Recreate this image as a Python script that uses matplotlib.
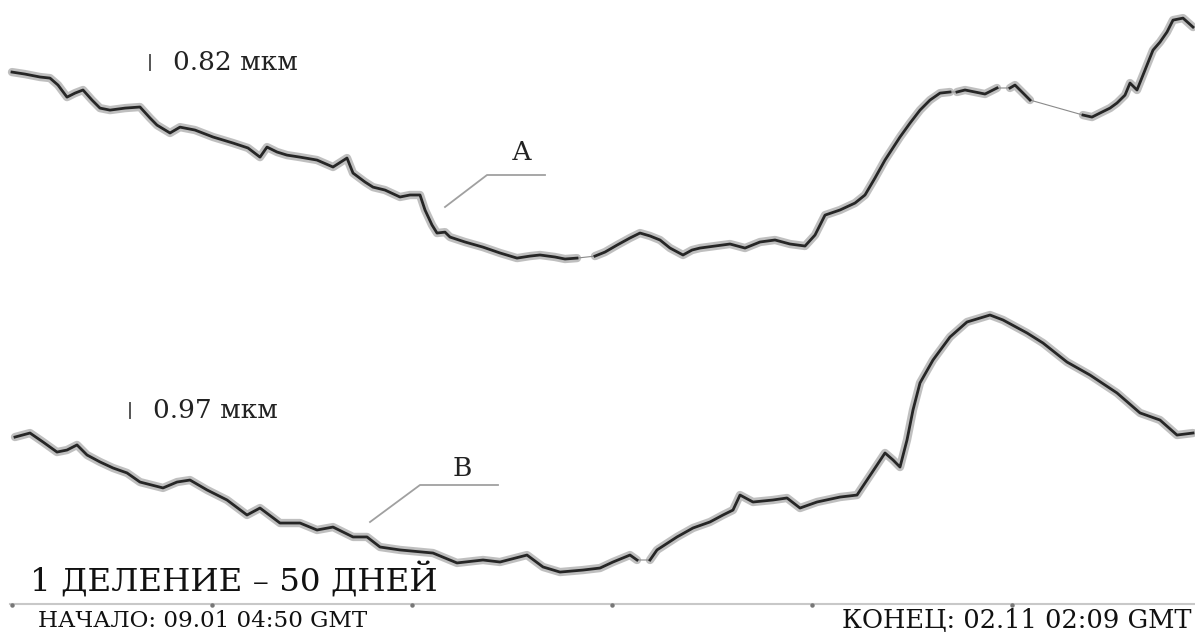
import numpy as np
import matplotlib.pyplot as plt
from matplotlib.lines import Line2D

# Кривая А: время (сутки от начала), смещение (мкм)
t_a = [0, 3.25, 7, 9.5, 11.5, 13.75, 15.75, 17.75, 20, 22, 24.5, 28.25, 32, 34.5, 36.25,
       39.5, 42, 45.75, 50.25, 55.25, 59, 62, 63.75, 66.25, 68.75, 72, 76.25, 80.25, 83.75,
       85.25, 88.25, 90.25, 93.25, 97, 99.5, 102, 103.25, 105, 106.25, 108.25, 109.5, 113.25,
       117.75, 122, 126.25, 129.5, 132, 135.75, 138.25, 141.25, 145.75, 148.25, 151.25, 154.5,
       157, 159.5, 162, 164.5, 167.75, 170, 172, 175.75, 179.5, 183.25, 187, 190.75, 194.5,
       198.25, 200.75, 203.25, 207, 210.75, 213.25, 215.75, 218.25, 222, 224.5, 227, 229.5,
       232, 234.5, 236.25, 238.25, 240.75, 243.25, 246.25, 249.5, 250.75, 252.5, 254.5,
       267.75, 270, 272, 274.5, 276.25, 278.25, 279.5, 281.25, 283.25, 285.25, 287, 288.75,
       290.25, 292.75, 295.25]
u_a = [10.55, 10.44, 10.28, 10.22, 9.84, 9.18, 9.40, 9.57, 9.02, 8.58, 8.47, 8.58, 8.64, 8.04,
       7.65, 7.22, 7.54, 7.38, 7.00, 6.67, 6.40, 5.90, 6.45, 6.18, 6.01, 5.90, 5.74, 5.36, 5.85,
       5.03, 4.54, 4.26, 4.10, 3.72, 3.83, 3.83, 3.01, 2.19, 1.75, 1.80, 1.53, 1.26,
       0.98, 0.66, 0.38, 0.49, 0.55, 0.44, 0.33, 0.38, 0.49, 0.71, 1.09, 1.48,
       1.75, 1.59, 1.37, 0.93, 0.55, 0.82, 0.93, 1.04, 1.15, 0.93, 1.26, 1.37, 1.15,
       1.04, 1.64, 2.73, 3.01, 3.39, 3.83, 4.76, 5.74, 7.00, 7.76, 8.47, 9.02,
       9.40, 9.46, 9.46, 9.57, 9.46, 9.35, 9.68, 9.68, 9.84, 9.46, 9.02,
       8.20, 8.09, 8.31, 8.58, 8.86, 9.29, 9.95, 9.57, 10.66, 11.75, 12.19, 12.74,
       13.39, 13.50, 13.01]
# пропуски записи (соединены тонкой линией)
gaps_a = [(141.25, 145.75), (234.5, 236.25), (246.25, 249.5), (254.5, 267.75)]

# Кривая В
t_b = [0.75, 4.5, 7.75, 11.25, 13.75, 16.25, 18.75, 22, 25.25, 28.75, 32, 37.75, 41.25, 44.5,
       48.75, 53.75, 58.75, 62, 67, 72, 76.25, 80.25, 85.25, 88.75, 92, 97, 105.25, 111.25,
       117.75, 122, 128.75, 132.75, 137, 142.75, 147, 150.25, 154.5, 156.25, 159.5, 161.25,
       166.25, 170.25, 174.5, 177.75, 180.25, 182, 185.25, 190.25, 193.75, 197, 201.25, 207,
       211.25, 213.75, 216.25, 218.25, 220.25, 222, 223.75, 225.25, 227, 230.25, 234.5,
       238.75, 244.5, 247.75, 253.75, 257.75, 263.75, 269.5, 276.25, 282, 287, 291.25, 295.25]
u_b = [8.92, 9.18, 8.60, 7.95, 8.08, 8.41, 7.76, 7.31, 6.92, 6.60, 6.01, 5.63, 6.01, 6.14,
       5.50, 4.85, 3.88, 4.33, 3.36, 3.36, 2.91, 3.10, 2.46, 2.46, 1.81, 1.62, 1.42, 0.78,
       0.97, 0.84, 1.29, 0.52, 0.19, 0.32, 0.45, 0.84, 1.29, 0.97, 0.97, 1.62,
       2.46, 3.04, 3.43, 3.88, 4.20, 5.17, 4.72, 4.85, 4.98, 4.33, 4.72, 5.04,
       5.17, 6.14, 7.11, 7.89, 7.44, 6.98, 8.73, 10.67, 12.42, 13.90, 15.39,
       16.36, 16.81, 16.49, 15.65, 15.00, 13.77, 12.93, 11.77, 10.48, 10.02, 9.05, 9.18]
gaps_b = [(156.25, 159.5)]

scale_a = 0.82   # мкм
scale_b = 0.97
day_ticks = [0, 50, 100, 150, 200, 250]

W, H = 1195, 634
fig = plt.figure(figsize=(W / 100, H / 100), dpi=100)
fig.patch.set_facecolor('white')
ax_a = fig.add_axes([0, 0, 1, 1])
ax_b = ax_a.twinx()
for ax in (ax_a, ax_b):
    ax.set_axis_off()
    ax.set_xlim(-3, 295.75)
ax_a.set_ylim(-20.17, 14.49)
ax_b.set_ylim(-3.815, 37.18)


def draw_trace(ax, t, u, gaps):
    t = np.array(t, dtype=float)
    u = np.array(u, dtype=float)
    # тонкая линия по всей записи
    ax.plot(t, u, color='#8a8a8a', lw=0.8, zorder=1)
    thick = u.copy()
    for g0, g1 in gaps:
        inside = (t > g0) & (t < g1)
        thick[inside] = np.nan
        # разрыв между концами пропуска
        i0 = np.where(t == g0)[0][0]
        thick = np.insert(thick, i0 + 1, np.nan)
        t = np.insert(t, i0 + 1, (g0 + g1) / 2)
    ax.plot(t, thick, color='#8c8c8c', lw=6, alpha=0.55, solid_capstyle='round', zorder=2)
    ax.plot(t, thick, color='#262626', lw=2.0, zorder=3)


draw_trace(ax_a, t_a, u_a, gaps_a)
draw_trace(ax_b, t_b, u_b, gaps_b)

# масштабные отрезки
ax_a.plot([34.5, 34.5], [10.66, 10.66 + scale_a], color='#555', lw=1.4)
ax_b.plot([29.5, 29.5], [10.15, 10.15 + scale_b], color='#555', lw=1.4)

serif = ['DejaVu Serif']


def fx(px):
    return px / W


def fy(py):
    return 1 - py / H


fig.text(fx(173), fy(62), f'{scale_a:.2f} мкм', family=serif, fontsize=19,
         va='center', ha='left', color='#222')
fig.text(fx(153), fy(410), f'{scale_b:.2f} мкм', family=serif, fontsize=19,
         va='center', ha='left', color='#222')

# выноски А и В
for xs, ys in [([445, 487, 545], [207, 175, 175]), ([370, 420, 498], [522, 485, 485])]:
    fig.add_artist(Line2D([fx(x) for x in xs], [fy(y) for y in ys],
                          transform=fig.transFigure, color='#a0a0a0', lw=1.3))
fig.text(fx(522), fy(152), 'А', family=serif, fontsize=19, ha='center', va='center', color='#222')
fig.text(fx(462), fy(468), 'В', family=serif, fontsize=19, ha='center', va='center', color='#222')

# ось времени
trans = ax_a.get_xaxis_transform()
ax_a.plot([-0.5, 295.75], [fy(604), fy(604)], transform=trans, color='#c8c8c8', lw=1.5)
ax_a.plot(day_ticks, [fy(605)] * len(day_ticks), transform=trans, ls='none',
          marker='o', ms=2.2, color='#777')

fig.text(fx(30), fy(580), '1 ДЕЛЕНИЕ – 50 ДНЕЙ', family=serif, fontsize=23.4,
         ha='left', va='center', color='#111')
fig.text(fx(38), fy(621), 'НАЧАЛО: 09.01 04:50 GMT', family=serif, fontsize=16.6,
         ha='left', va='center', color='#111')
fig.text(fx(1191), fy(620), 'КОНЕЦ: 02.11 02:09 GMT', family=serif, fontsize=18.5,
         ha='right', va='center', color='#111')

fig.savefig('out.png', dpi=100, facecolor='white')
